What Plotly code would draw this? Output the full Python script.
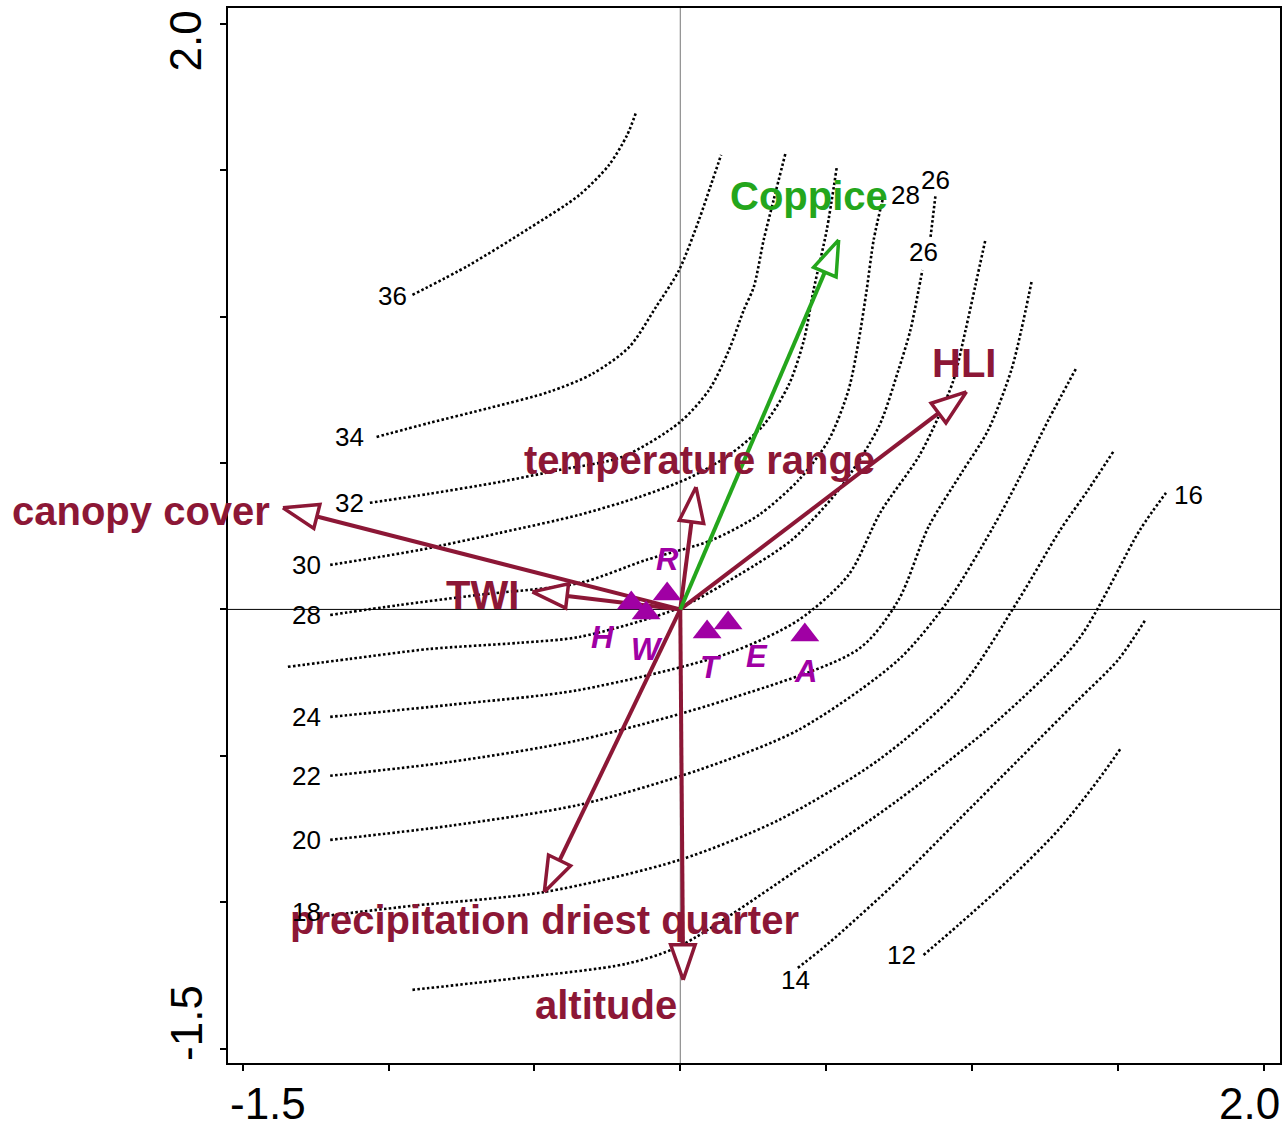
import numpy as np
import plotly.graph_objects as go

# ---------------------------------------------------------------
# Biplot scores: explanatory variables (arrows)
# ---------------------------------------------------------------
env_names = ["canopy cover", "TWI", "temperature range", "HLI",
             "precipitation driest quarter", "altitude"]
env_x = [-1.362, -0.507, 0.054, 0.981, -0.466, 0.010]
env_y = [0.347, 0.060, 0.418, 0.743, -0.965, -1.265]

# supplementary variable
supp_names = ["Coppice"]
supp_x = [0.543]
supp_y = [1.262]

# site-group centroids
site_names = ["R", "H", "W", "T", "E", "A"]
site_x = [-0.045, -0.168, -0.117, 0.092, 0.164, 0.427]
site_y = [0.053, 0.022, -0.012, -0.077, -0.046, -0.087]

# ---------------------------------------------------------------
# Isolines of the fitted response surface
# ---------------------------------------------------------------
iso36_x = [-0.918, -0.723, -0.517, -0.346, -0.244, -0.182, -0.151]
iso36_y = [1.074, 1.176, 1.302, 1.415, 1.518, 1.620, 1.699]

iso34_x = [-1.041, -0.859, -0.654, -0.449, -0.302, -0.175, -0.083, -0.004, 0.064, 0.105, 0.140]
iso34_y = [0.589, 0.637, 0.688, 0.743, 0.804, 0.896, 1.033, 1.159, 1.330, 1.449, 1.552]

iso32_x = [-1.064, -0.859, -0.620, -0.415, -0.199, -0.004, 0.099, 0.167, 0.218, 0.252, 0.286, 0.320, 0.361]
iso32_y = [0.364, 0.395, 0.435, 0.476, 0.521, 0.637, 0.750, 0.886, 1.023, 1.101, 1.262, 1.398, 1.559]

iso30_x = [-1.200, -0.894, -0.620, -0.346, -0.141, 0.030, 0.167, 0.286, 0.372, 0.424, 0.457, 0.502, 0.536]
iso30_y = [0.152, 0.203, 0.261, 0.323, 0.384, 0.449, 0.527, 0.630, 0.767, 0.920, 1.091, 1.295, 1.507]

iso28_x = [-1.200, -0.962, -0.688, -0.346, -0.117, 0.109, 0.270, 0.406, 0.509, 0.577, 0.612, 0.639, 0.663, 0.697]
iso28_y = [-0.019, 0.015, 0.050, 0.090, 0.169, 0.237, 0.323, 0.442, 0.579, 0.750, 0.920, 1.091, 1.262, 1.413]

iso26a_x = [-1.345, -1.133, -0.859, -0.551, -0.346, -0.004, 0.201, 0.382, 0.543, 0.680, 0.748, 0.789, 0.817, 0.830]
iso26a_y = [-0.196, -0.169, -0.135, -0.114, -0.094, 0.005, 0.118, 0.237, 0.408, 0.623, 0.818, 0.954, 1.091, 1.159]
iso26b_x = [0.858, 0.875]
iso26b_y = [1.272, 1.415]

iso24_x = [-1.200, -0.791, -0.346, 0.167, 0.406, 0.577, 0.687, 0.817, 0.885, 0.937, 0.978, 1.012, 1.046]
iso24_y = [-0.367, -0.326, -0.275, -0.149, -0.036, 0.118, 0.333, 0.521, 0.657, 0.784, 0.954, 1.108, 1.262]

iso22_x = [-1.200, -0.791, -0.346, 0.167, 0.612, 0.748, 0.851, 0.964, 1.056, 1.135, 1.169, 1.204]
iso22_y = [-0.568, -0.521, -0.446, -0.306, -0.135, 0.032, 0.282, 0.466, 0.613, 0.818, 0.954, 1.118]

iso20_x = [-1.200, -0.791, -0.346, 0.064, 0.406, 0.748, 0.920, 1.073, 1.159, 1.262, 1.358]
iso20_y = [-0.787, -0.739, -0.667, -0.548, -0.411, -0.172, 0.032, 0.282, 0.442, 0.647, 0.825]

iso18_x = [-1.212, -0.918, -0.466, -0.001, 0.338, 0.680, 0.954, 1.159, 1.303, 1.398, 1.484]
iso18_y = [-1.046, -1.012, -0.965, -0.855, -0.719, -0.514, -0.275, 0.032, 0.272, 0.408, 0.538]

iso16_x = [-0.918, -0.551, -0.185, -0.001, 0.451, 0.748, 1.091, 1.364, 1.576, 1.665]
iso16_y = [-1.299, -1.258, -1.210, -1.149, -0.855, -0.650, -0.377, -0.104, 0.272, 0.398]

iso14_x = [0.403, 0.506, 0.748, 0.954, 1.159, 1.364, 1.501, 1.594]
iso14_y = [-1.224, -1.142, -0.924, -0.719, -0.514, -0.309, -0.172, -0.036]

iso12_x = [0.834, 0.954, 1.125, 1.296, 1.433, 1.511]
iso12_y = [-1.180, -1.077, -0.924, -0.753, -0.582, -0.473]

iso_lines = [
    (iso36_x, iso36_y), (iso34_x, iso34_y), (iso32_x, iso32_y),
    (iso30_x, iso30_y), (iso28_x, iso28_y), (iso26a_x, iso26a_y),
    (iso26b_x, iso26b_y), (iso24_x, iso24_y), (iso22_x, iso22_y),
    (iso20_x, iso20_y), (iso18_x, iso18_y), (iso16_x, iso16_y),
    (iso14_x, iso14_y), (iso12_x, iso12_y),
]

# isoline value labels
iso_label_text = ["36", "34", "32", "30", "28", "24", "22", "20", "18",
                  "14", "12", "16", "28", "26", "26"]
iso_label_x = [-0.985, -1.133, -1.133, -1.280, -1.280, -1.280, -1.280, -1.280, -1.280,
               0.396, 0.759, 1.741, 0.772, 0.875, 0.834]
iso_label_y = [1.070, 0.589, 0.364, 0.152, -0.019, -0.367, -0.568, -0.787, -1.033,
               -1.265, -1.180, 0.391, 1.415, 1.466, 1.220]

# ---------------------------------------------------------------
# Styling
# ---------------------------------------------------------------
FONT = "Liberation Sans, Arial, sans-serif"
ENV_COLOR = "#8C1736"
SUPP_COLOR = "#24A61C"
SITE_COLOR = "#A000A4"
DOT = "2.5px,2.3px"

fig = go.Figure()

for xs, ys in iso_lines:
    fig.add_trace(go.Scatter(
        x=xs, y=ys, mode="lines",
        line=dict(color="black", width=2.6, dash=DOT, shape="spline", smoothing=0.8),
        hoverinfo="skip", showlegend=False))


def add_arrow(x1, y1, color):
    """Shaft from the origin plus an open triangular head."""
    head_len, head_half = 0.12, 0.042
    d = float(np.hypot(x1, y1))
    ux, uy = x1 / d, y1 / d
    bx, by = x1 - head_len * ux, y1 - head_len * uy
    nx, ny = -uy, ux
    fig.add_trace(go.Scatter(
        x=[0, bx], y=[0, by], mode="lines",
        line=dict(color=color, width=4), hoverinfo="skip", showlegend=False))
    fig.add_trace(go.Scatter(
        x=[x1, bx + head_half * nx, bx - head_half * nx, x1],
        y=[y1, by + head_half * ny, by - head_half * ny, y1],
        mode="lines", fill="toself", fillcolor="white",
        line=dict(color=color, width=3.5), hoverinfo="skip", showlegend=False))


for x1, y1 in zip(env_x, env_y):
    add_arrow(x1, y1, ENV_COLOR)
for x1, y1 in zip(supp_x, supp_y):
    add_arrow(x1, y1, SUPP_COLOR)

fig.add_trace(go.Scatter(
    x=site_x, y=site_y, mode="markers",
    marker=dict(symbol="triangle-up", size=25, color=SITE_COLOR, line=dict(width=0)),
    hoverinfo="skip", showlegend=False))

annotations = []

# arrow labels: (x, y, xanchor)
env_label_pos = {
    "canopy cover": (-1.400, 0.336, "right"),
    "TWI": (-0.545, 0.050, "right"),
    "temperature range": (0.067, 0.510, "center"),
    "HLI": (0.974, 0.842, "center"),
    "precipitation driest quarter": (-0.466, -1.060, "center"),
    "altitude": (-0.254, -1.350, "center"),
}
for name in env_names:
    lx, ly, anc = env_label_pos[name]
    annotations.append(dict(
        x=lx, y=ly, text=name, showarrow=False, xanchor=anc, yanchor="middle",
        font=dict(family=FONT, size=40, color=ENV_COLOR, weight="bold")))

annotations.append(dict(
    x=0.441, y=1.413, text=supp_names[0], showarrow=False,
    xanchor="center", yanchor="middle",
    font=dict(family=FONT, size=40, color=SUPP_COLOR, weight="bold")))

# site labels, offsets in pixels from each triangle
site_label_shift = {"R": (0, 34), "H": (-29, -35), "W": (1, -37),
                    "T": (4, -36), "E": (29, -34), "A": (1, -37)}
for name, sx, sy in zip(site_names, site_x, site_y):
    dx, dy = site_label_shift[name]
    annotations.append(dict(
        x=sx, y=sy, text=name, showarrow=False, xshift=dx, yshift=dy,
        xanchor="center", yanchor="middle",
        font=dict(family=FONT, size=31, color=SITE_COLOR, weight="bold", style="italic")))

for t, lx, ly in zip(iso_label_text, iso_label_x, iso_label_y):
    annotations.append(dict(
        x=lx, y=ly, text=t, showarrow=False, xanchor="center", yanchor="middle",
        font=dict(family=FONT, size=26, color="black")))

# axis end labels
TICK_FONT = dict(family=FONT, size=44, color="black")
annotations += [
    dict(xref="paper", yref="paper", x=0, y=-0.038, text="-1.5", showarrow=False,
         xanchor="left", yanchor="middle", font=TICK_FONT),
    dict(xref="paper", yref="paper", x=1.002, y=-0.038, text="2.0", showarrow=False,
         xanchor="right", yanchor="middle", font=TICK_FONT),
    dict(xref="paper", yref="paper", x=-0.040, y=1.0, text="2.0", showarrow=False,
         textangle=-90, xanchor="center", yanchor="top", font=TICK_FONT),
    dict(xref="paper", yref="paper", x=-0.040, y=0.0, text="-1.5", showarrow=False,
         textangle=-90, xanchor="center", yanchor="bottom", font=TICK_FONT),
]

ticks = [-1.5, -1.0, -0.5, 0.0, 0.5, 1.0, 1.5, 2.0]
axis_style = dict(
    tickvals=ticks, ticks="outside", ticklen=6, tickwidth=1.5, tickcolor="black",
    showticklabels=False, showgrid=False, zeroline=False,
    showline=True, linecolor="black", linewidth=2, mirror=True)

fig.update_xaxes(range=[-1.5503, 2.0558], **axis_style)
fig.update_yaxes(range=[-1.5488, 2.0536], **axis_style)

fig.update_layout(
    width=1287, height=1127,
    margin=dict(l=228, r=5, t=8, b=64),
    plot_bgcolor="white", paper_bgcolor="white",
    showlegend=False,
    annotations=annotations,
    shapes=[
        dict(type="line", xref="x", yref="paper", x0=0, x1=0, y0=0, y1=1,
             line=dict(color="#777777", width=1), layer="below"),
        dict(type="line", xref="paper", yref="y", x0=0, x1=1, y0=0, y1=0,
             line=dict(color="black", width=1), layer="below"),
    ],
)

fig.write_html("out.html")
